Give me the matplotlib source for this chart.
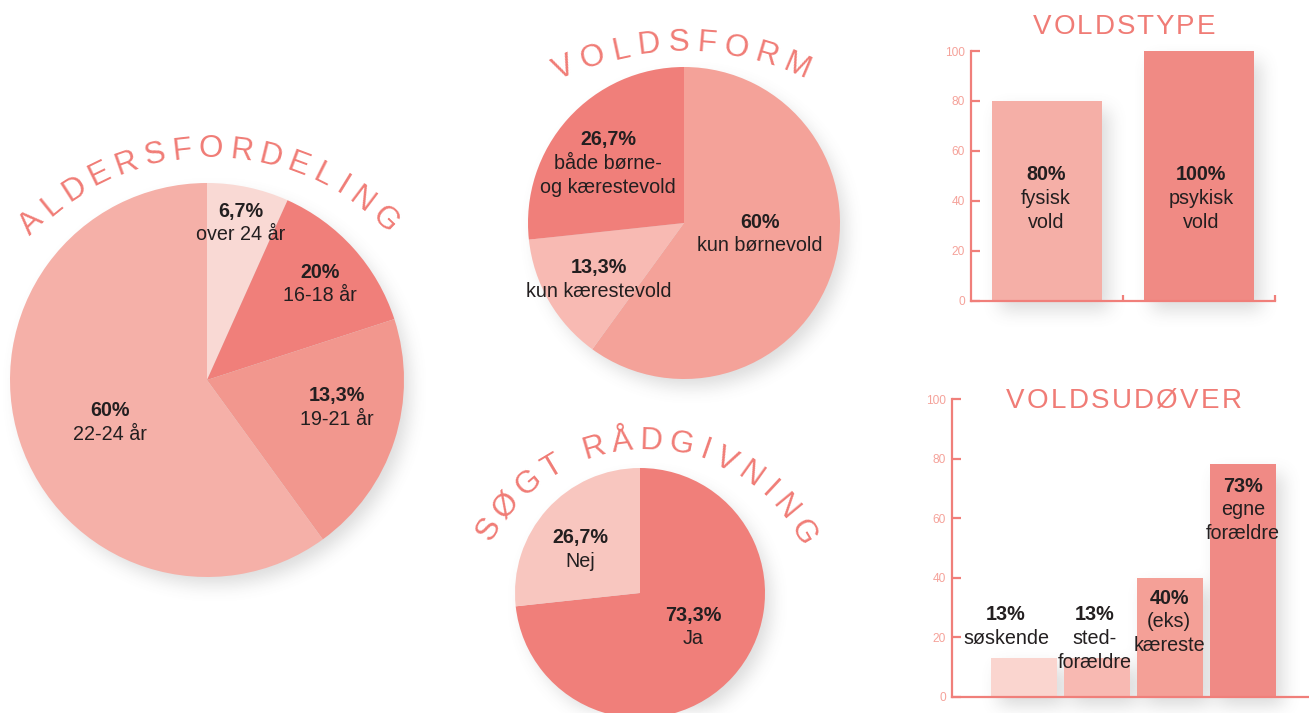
import numpy as np
import matplotlib
matplotlib.use("Agg")
import matplotlib.pyplot as plt
from matplotlib.textpath import TextToPath
from matplotlib.font_manager import FontProperties

# ---------------- data ----------------
age_pct_text = ["6,7%", "20%", "13,3%", "60%"]
age_labels = ["over 24 år", "16-18 år", "19-21 år", "22-24 år"]
age_values = [6.7, 13.3, 20.0, 60.0]          # wedge sizes as drawn
age_colors = ["#F9D9D4", "#F07F7A", "#F2978E", "#F5B0A8"]

form_pct_text = ["60%", "13,3%", "26,7%"]
form_labels = ["kun børnevold", "kun kærestevold", "både børne-\nog kærestevold"]
form_values = [60.0, 13.3, 26.7]
form_colors = ["#F4A299", "#F8BAB3", "#F07F7A"]

help_pct_text = ["73,3%", "26,7%"]
help_labels = ["Ja", "Nej"]
help_values = [73.3, 26.7]
help_colors = ["#F07F7A", "#F8C6BF"]

type_pct_text = ["80%", "100%"]
type_labels = ["fysisk\nvold", "psykisk\nvold"]
type_values = [80, 100]
type_colors = ["#F5AFA7", "#F08A84"]

perp_pct_text = ["13%", "13%", "40%", "73%"]
perp_labels = ["søskende", "sted-\nforældre", "(eks)\nkæreste", "egne\nforældre"]
perp_values = [13, 13, 40, 78]
perp_colors = ["#FAD5CF", "#F8B9B2", "#F4A097", "#F08A85"]

y_ticks = [0, 20, 40, 60, 80, 100]

titles = {"age": "ALDERSFORDELING", "form": "VOLDSFORM", "help": "SØGT RÅDGIVNING",
          "type": "VOLDSTYPE", "perp": "VOLDSUDØVER"}

# ---------------- style ----------------
W, H, DPI = 1309, 713, 100
FONT = "Liberation Sans"
DARK = "#231F20"
TITLE = "#F07C76"
AXC = "#F07F7A"
TICKC = "#F5A29A"
FS = 14.2
plt.rcParams["font.family"] = [FONT, "DejaVu Sans"]

fig = plt.figure(figsize=(W / DPI, H / DPI), dpi=DPI)
fig.patch.set_facecolor("white")


def px_axes(left, top, width, height, **kw):
    return fig.add_axes([left / W, 1 - (top + height) / H, width / W, height / H], **kw)


def pie_axes(cx, cy, r):
    ax = px_axes(cx - r, cy - r, 2 * r, 2 * r)
    return ax


def draw_pie(ax, values, colors):
    ax.pie(values, colors=colors, startangle=90, counterclock=False, radius=1,
           wedgeprops=dict(linewidth=0, antialiased=True))
    ax.set_xlim(-1, 1)
    ax.set_ylim(-1, 1)
    ax.axis("off")


# pies
ax_age = pie_axes(207, 380, 197)
draw_pie(ax_age, age_values, age_colors)
ax_form = pie_axes(684, 223, 156)
draw_pie(ax_form, form_values, form_colors)
ax_help = pie_axes(640, 593, 125)
draw_pie(ax_help, help_values, help_colors)


def style_bar_axes(ax):
    ax.set_facecolor("none")
    for s in ["top", "right"]:
        ax.spines[s].set_visible(False)
    for s in ["left", "bottom"]:
        ax.spines[s].set_color(AXC)
        ax.spines[s].set_linewidth(1.6)
    ax.set_ylim(0, 100)
    ax.set_yticks(y_ticks)
    ax.tick_params(axis="y", direction="in", length=6.5, width=1.6, color=AXC,
                   labelcolor=TICKC, labelsize=8.6, pad=4.5)
    for lab in ax.get_yticklabels():
        lab.set_fontfamily(FONT)


# Voldstype bar chart
ax_type = px_axes(971, 51, 304, 249.7)
style_bar_axes(ax_type)
type_bars = ax_type.bar(range(len(type_values)), type_values, width=0.72,
                        color=type_colors, linewidth=0)
ax_type.set_xlim(-0.5, len(type_values) - 0.5)
ax_type.set_xticks([i + 0.5 for i in range(len(type_values))])
ax_type.set_xticklabels([])
ax_type.tick_params(axis="x", direction="in", length=4.5, width=1.6, color=AXC)

# Voldsudøver bar chart
ax_perp = px_axes(952, 399, 357, 297.7)
style_bar_axes(ax_perp)
perp_bars = ax_perp.bar(range(len(perp_values)), perp_values, width=0.9,
                        color=perp_colors, linewidth=0)
ax_perp.set_xlim(-0.986, 3.904)
ax_perp.set_xticks([])

# ---------------- soft shadows (derived from drawn shapes) ----------------
def box_blur(a, r, axis):
    pad = [(0, 0), (0, 0)]
    pad[axis] = (r + 1, r)
    p = np.pad(a, pad, mode="constant")
    c = np.cumsum(p, axis=axis)
    if axis == 0:
        return (c[2 * r + 1:, :] - c[:-2 * r - 1, :]) / (2 * r + 1)
    return (c[:, 2 * r + 1:] - c[:, :-2 * r - 1]) / (2 * r + 1)


yy, xx = np.mgrid[0:H, 0:W]
mask = np.zeros((H, W))
dx, dy = 7, 9
for ax in (ax_age, ax_form, ax_help):
    c = ax.transData.transform((0, 0))
    r = ax.transData.transform((1, 0))[0] - c[0]
    cx, cy = c[0], H - c[1]
    mask = np.maximum(mask, (((xx - cx - dx) ** 2 + (yy - cy - dy) ** 2) <= (r - 2) ** 2).astype(float))
for bars in (type_bars, perp_bars):
    for b in bars:
        bb = b.get_window_extent()
        x0, x1 = bb.x0 + dx, bb.x1 + dx
        y0, y1 = H - bb.y1 + dy, H - bb.y0 + dy
        m = (xx >= x0) & (xx <= x1) & (yy >= y0) & (yy <= y1)
        mask = np.maximum(mask, m.astype(float))
sh = mask
for _ in range(3):
    sh = box_blur(sh, 8, 0)
    sh = box_blur(sh, 8, 1)
rgba = np.zeros((H, W, 4))
rgba[..., :3] = 0.35
rgba[..., 3] = np.clip(sh * 0.22, 0, 1)
fig.figimage(rgba, xo=0, yo=0, origin="upper", zorder=-1)

# ---------------- overlay for texts ----------------
ov = fig.add_axes([0, 0, 1, 1], zorder=10)
ov.set_xlim(0, W)
ov.set_ylim(H, 0)
ov.axis("off")

ttp = TextToPath()


def ink_width_px(ch, fs):
    if ch == " ":
        return 0.278 * fs * DPI / 72
    prop = FontProperties(family=FONT, size=fs)
    w, h, d = ttp.get_text_width_height_descent(ch, prop, ismath=False)
    return w * DPI / 72


def block(x, y, pct, label, lh=23.6):
    ov.text(x, y, pct, ha="center", va="center", fontsize=FS, fontweight="bold", color=DARK)
    for i, line in enumerate(label.split("\n")):
        ov.text(x, y + lh * (i + 1), line, ha="center", va="center", fontsize=FS, color=DARK)


def tracked(text, x0, x1, yc, fs, color=TITLE):
    ws = [ink_width_px(c, fs) for c in text]
    gap = ((x1 - x0) - sum(ws)) / (len(text) - 1)
    capH = 0.716 * fs * DPI / 72
    x = x0
    for c, w in zip(text, ws):
        ov.text(x + w / 2, yc + capH / 2, c, ha="center", va="baseline", fontsize=fs, color=color)
        x += w + gap


def curved(text, cx, cy, R, a0, a1, fs, color=TITLE):
    ws = [ink_width_px(c, fs) for c in text]
    g = 0.4 * fs * DPI / 72
    pos = []
    s = 0
    for i, w in enumerate(ws):
        if i == 0:
            s = w / 2
        else:
            s += ws[i - 1] / 2 + g + w / 2
        pos.append(s)
    pos = np.array(pos)
    angs = a0 + (pos - pos[0]) / (pos[-1] - pos[0]) * (a1 - a0)
    capH = 0.716 * fs * DPI / 72
    Rb = R - capH / 2
    for c, a in zip(text, angs):
        if c == " ":
            continue
        t = np.radians(a)
        x = cx + Rb * np.sin(t)
        y = cy - Rb * np.cos(t)
        ov.text(x, y, c, ha="center", va="baseline", rotation=-a, rotation_mode="anchor",
                fontsize=fs, color=color)


# pie labels
age_pos = [(241, 211), (320, 272), (337, 396), (110, 411)]
for (x, y), p, l in zip(age_pos, age_pct_text, age_labels):
    block(x, y, p, l)
form_pos = [(760, 222), (599, 268), (608, 140)]
for (x, y), p, l in zip(form_pos, form_pct_text, form_labels):
    block(x, y, p, l)
help_pos = [(693, 615), (580, 538)]
for (x, y), p, l in zip(help_pos, help_pct_text, help_labels):
    block(x, y, p, l)

# bar labels
type_pos = [(1046, 175), (1201, 175)]
for (x, y), p, l in zip(type_pos, type_pct_text, type_labels):
    block(x, y, p, l)
perp_pos = [(1006, 615), (1095, 615), (1169, 598), (1243, 486)]
for (x, y), p, l in zip(perp_pos, perp_pct_text, perp_labels):
    block(x, y, p, l)

# titles
curved(titles["age"], 210, 401, 255, -45, 44, 22.5)
curved(titles["form"], 683, 335, 295, -24, 23, 22.5)
curved(titles["help"], 645, 623, 185, -59, 60, 22.5)
tracked(titles["type"], 1033, 1215, 24, 20)
tracked(titles["perp"], 1006, 1242, 398, 20)

fig.savefig("out.png", dpi=DPI)
